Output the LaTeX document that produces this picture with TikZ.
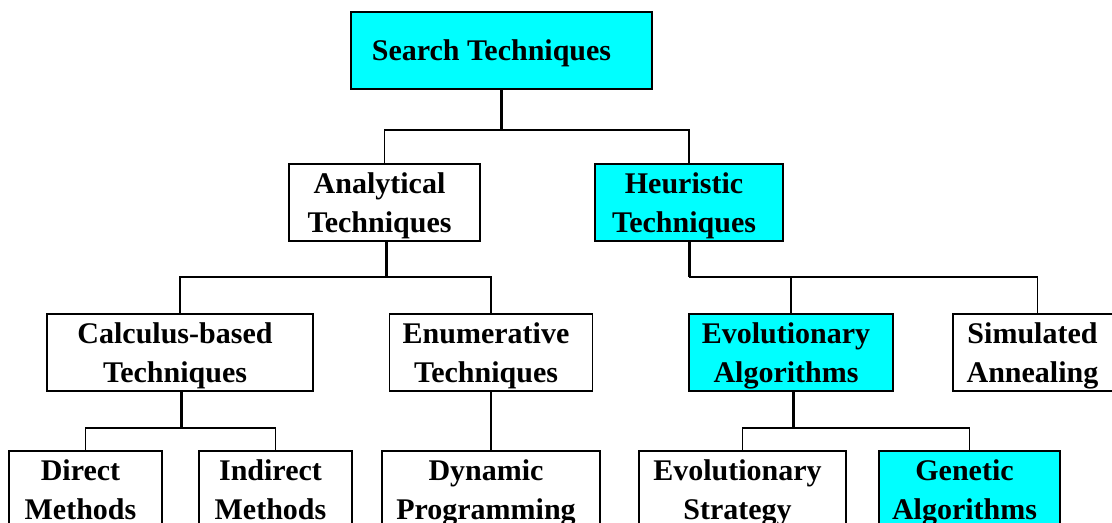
\documentclass[tikz,border=0pt]{standalone}
\usepackage{fontspec}
\setmainfont{Liberation Serif}
% trailing gap at the end of each label line, so lines sit a little left of centre
\newcommand\tpad{\hspace*{10bp}}
\begin{document}
\begin{tikzpicture}[x=1bp, y=-1bp,
  box/.style={draw=black, line width=1.6bp, fill=white, inner sep=0pt,
    minimum height=77bp, align=center, text depth=0pt,
    font=\fontsize{30bp}{39bp}\selectfont\bfseries},
  hl/.style={box, fill=hlcyan},
  conn/.style={draw=black, line width=1.7bp},
  stem/.style={draw=black, line width=3bp}]
\definecolor{hlcyan}{RGB}{0,255,255}
\clip (0,0) rectangle (1112,523);

% top level
\node[hl, minimum width=301bp] (st) at (501.5,50.5) {Search Techniques\tpad\tpad};

% second level
\node[box, minimum width=191bp] (an) at (384.5,202.5) {Analytical\tpad\\Techniques\tpad};
\node[hl, minimum width=188bp] (he) at (689,202.5) {Heuristic\tpad\\Techniques\tpad};

% third level
\node[box, minimum width=266bp] (ca) at (180,352.5) {Calculus-based\tpad\\Techniques\tpad};
\node[box, minimum width=203bp] (en) at (491,352.5) {Enumerative\tpad\\Techniques\tpad};
\node[hl, minimum width=204bp] (ev) at (791,352.5) {Evolutionary\tpad\\Algorithms\tpad};
\node[box, minimum width=169bp] (si) at (1037.5,352.5) {Simulated\tpad\\Annealing\tpad};

% fourth level
\node[box, minimum width=153bp] (di) at (85.5,489.5) {Direct\tpad\\Methods\tpad};
\node[box, minimum width=153bp] (in) at (275.5,489.5) {Indirect\tpad\\Methods\tpad};
\node[box, minimum width=218bp] (dp) at (491,489.5) {Dynamic\tpad\\Programming\tpad};
\node[box, minimum width=207bp] (es) at (742.5,489.5) {Evolutionary\tpad\\Strategy\tpad};
\node[hl, minimum width=181bp] (ga) at (969.5,489.5) {Genetic\tpad\\Algorithms\tpad};

% branch points
\coordinate (j1) at (501.5,130);
\coordinate (j2) at (386,277);
\coordinate (j3) at (689,277);
\coordinate (j4) at (181,428);
\coordinate (j5) at (793,428);

% connectors
\draw[stem] (st.south) -- (j1);
\draw[conn] (an.north) |- (j1) -| (he.north);

\draw[stem] (an.south -| j2) -- (j2);
\draw[conn] (ca.north) |- (j2) -| (en.north);

\draw[stem] (he.south) -- (j3);
\draw[conn] (j3) -| (ev.north);
\draw[conn] (j3) -| (si.north);

\draw[stem] (ca.south -| j4) -- (j4);
\draw[conn] (di.north) |- (j4) -| (in.north);

\draw[conn] (en.south) -- (dp.north);

\draw[stem] (ev.south -| j5) -- (j5);
\draw[conn] (es.north) |- (j5) -| (ga.north);
\end{tikzpicture}
\end{document}
